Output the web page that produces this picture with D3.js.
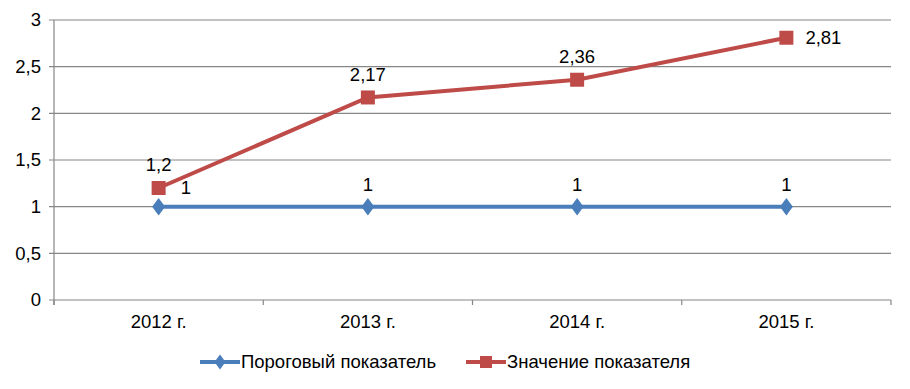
<!DOCTYPE html>
<html><head><meta charset="utf-8">
<script src="https://cdn.jsdelivr.net/npm/d3@7/dist/d3.min.js"></script>
<style>body{margin:0;background:#fff}svg{display:block;font-family:"Liberation Sans",Arial,sans-serif}</style>
</head><body><svg id="c" width="910" height="389"></svg>
<script>
const categories = ["2012 г.", "2013 г.", "2014 г.", "2015 г."];
const thresholdValues = [1, 1, 1, 1];
const actualValues = [1.2, 2.17, 2.36, 2.81];
const yTicks = [0, 0.5, 1, 1.5, 2, 2.5, 3];
const seriesNames = ["Пороговый показатель", "Значение показателя"];

const svg = d3.select("#c");
const L = 54, R = 891, T = 20, B = 300;
const FS = 18.5;
const x = d3.scaleBand().domain(categories).range([L, R]);
const y = d3.scaleLinear().domain([0, 3]).range([B, T]);
const fmt = v => String(v).replace(".", ",");
const grid = "#868686";

svg.append("g").selectAll("line").data(yTicks).join("line")
  .attr("x1", L - 5).attr("x2", R).attr("y1", d => y(d)).attr("y2", d => y(d))
  .attr("stroke", grid).attr("stroke-width", 1.2);
svg.append("line").attr("x1", L).attr("x2", L).attr("y1", T).attr("y2", B + 5)
  .attr("stroke", grid).attr("stroke-width", 1.2);
svg.append("g").selectAll("text").data(yTicks).join("text")
  .attr("x", L - 13).attr("y", d => y(d)).attr("dy", "0.35em")
  .attr("text-anchor", "end").attr("font-size", FS).attr("fill", "#000").text(fmt);
const xt = categories.map(c => x(c)).concat([R]);
svg.append("g").selectAll("line").data(xt).join("line")
  .attr("x1", d => d).attr("x2", d => d).attr("y1", B).attr("y2", B + 5)
  .attr("stroke", grid).attr("stroke-width", 1.2);
svg.append("g").selectAll("text").data(categories).join("text")
  .attr("x", d => x(d) + x.bandwidth() / 2).attr("y", B + 22).attr("dy", "0.35em")
  .attr("text-anchor", "middle").attr("font-size", FS).attr("fill", "#000").text(d => d);

const cx = c => x(c) + x.bandwidth() / 2;
const line = d3.line().x((d, i) => cx(categories[i])).y(d => y(d));
const blue = "#4a7ebb", red = "#be4b48";

svg.append("path").datum(thresholdValues).attr("d", line).attr("fill", "none")
  .attr("stroke", blue).attr("stroke-width", 4);
svg.append("g").selectAll("path").data(thresholdValues).join("path")
  .attr("d", d3.symbol(d3.symbolDiamond, 110))
  .attr("transform", (d, i) => `translate(${cx(categories[i])},${y(d)}) scale(1.15,0.9)`)
  .attr("fill", blue);

svg.append("path").datum(actualValues).attr("d", line).attr("fill", "none")
  .attr("stroke", red).attr("stroke-width", 4);
svg.append("g").selectAll("rect").data(actualValues).join("rect")
  .attr("x", (d, i) => cx(categories[i]) - 7).attr("y", d => y(d) - 7)
  .attr("width", 14).attr("height", 14).attr("fill", red);

const lab = svg.append("g").attr("font-size", FS).attr("fill", "#000");
thresholdValues.forEach((v, i) => {
  const px = cx(categories[i]), py = y(v);
  if (i === 0) lab.append("text").attr("x", px + 22).attr("y", py - 19).attr("dy", "0.35em").attr("text-anchor", "start").text(fmt(v));
  else lab.append("text").attr("x", px).attr("y", py - 22).attr("dy", "0.35em").attr("text-anchor", "middle").text(fmt(v));
});
actualValues.forEach((v, i) => {
  const px = cx(categories[i]), py = y(v);
  if (i === 3) lab.append("text").attr("x", px + 19).attr("y", py).attr("dy", "0.35em").attr("text-anchor", "start").text(fmt(v));
  else lab.append("text").attr("x", px).attr("y", py - 23).attr("dy", "0.35em").attr("text-anchor", "middle").text(fmt(v));
});

const leg = svg.append("g");
const items = [{n: seriesNames[0], c: blue, s: "d", x: 200}, {n: seriesNames[1], c: red, s: "r", x: 466}];
items.forEach(it => {
  const ly = 362;
  leg.append("line").attr("x1", it.x).attr("x2", it.x + 40).attr("y1", ly).attr("y2", ly)
    .attr("stroke", it.c).attr("stroke-width", 4);
  if (it.s === "d") leg.append("path").attr("d", d3.symbol(d3.symbolDiamond, 80))
    .attr("transform", `translate(${it.x + 20},${ly}) scale(1.15,0.9)`).attr("fill", it.c);
  else leg.append("rect").attr("x", it.x + 14).attr("y", ly - 6).attr("width", 12).attr("height", 12).attr("fill", it.c);
  leg.append("text").attr("x", it.x + 41).attr("y", ly).attr("dy", "0.35em")
    .attr("font-size", FS).attr("fill", "#000").text(it.n);
});
</script></body></html>
